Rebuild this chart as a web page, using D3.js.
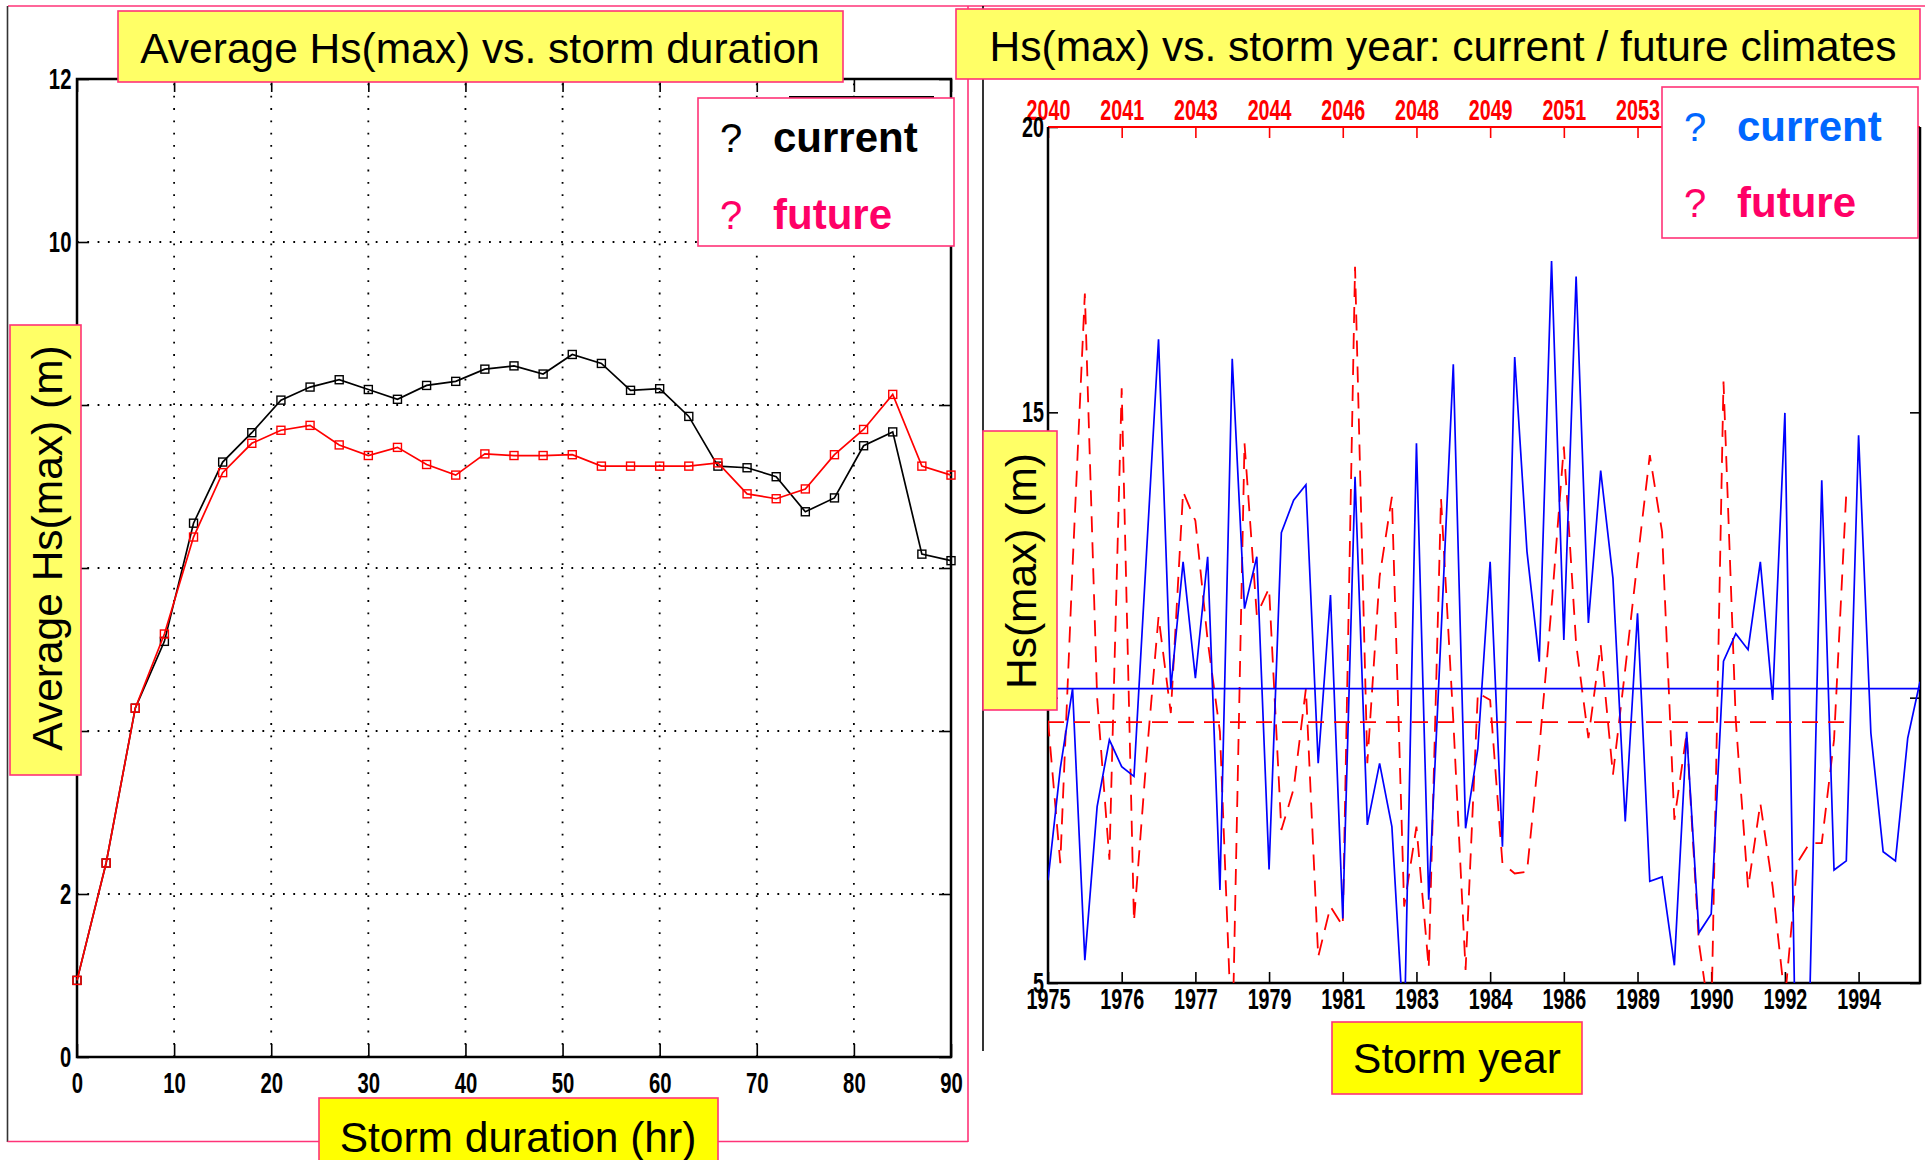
<!DOCTYPE html>
<html lang="en">
  <head>
    <meta charset="utf-8">
    <title>Hs(max) vs. storm duration / storm year</title>
    <script src="https://cdn.jsdelivr.net/npm/d3@7"></script>
    <style>
      body { margin: 0; background: #fff; }
      svg { display: block; }
    </style>
  </head>

  <body>
    <div id="main"></div>

    <script type="text/javascript">
      // ---- left panel: average Hs(max) by storm duration ----
      let durations = [0,3,6,9,12,15,18,21,24,27,30,33,36,39,42,45,48,51,54,57,60,63,66,69,72,75,78,81,84,87,90]
      let avgCurrent = [0.94,2.38,4.28,5.10,6.55,7.30,7.66,8.06,8.22,8.31,8.19,8.07,8.24,8.29,8.44,8.48,
                        8.38,8.62,8.51,8.18,8.20,7.86,7.25,7.23,7.12,6.69,6.86,7.50,7.67,6.17,6.09]
      let avgFuture  = [0.94,2.38,4.28,5.19,6.38,7.17,7.53,7.69,7.75,7.51,7.38,7.48,7.27,7.14,7.40,7.38,
                        7.38,7.39,7.25,7.25,7.25,7.25,7.29,6.91,6.85,6.97,7.39,7.70,8.13,7.25,7.14]
      let durTicks = [0,10,20,30,40,50,60,70,80,90]
      let avgTicks = [0,2,4,6,8,10,12]

      // ---- right panel: Hs(max) of each storm, in storm order ----
      let hsCurrent = [6.80,8.76,10.16,5.40,8.09,9.26,8.79,8.62,12.45,16.28,
                       10.16,12.38,10.34,12.47,6.63,15.94,11.56,12.47,6.99,12.89,
                       13.46,13.73,8.85,11.80,6.13,13.87,7.77,8.85,7.74,4.00,
                       14.46,6.46,11.10,15.84,7.71,9.11,12.38,7.39,15.97,12.56,
                       10.63,17.65,11.01,17.38,11.31,13.98,12.09,7.83,11.48,6.78,
                       6.86,5.31,9.40,5.88,6.21,10.64,11.12,10.84,12.38,9.96,
                       14.99,2.00,4.50,13.81,6.98,7.14,14.60,9.38,7.30,7.14,9.29,10.28]
      let hsFuture  = [9.60,7.10,12.30,17.08,10.00,7.16,15.42,6.08,8.90,11.42,
                       9.73,13.61,13.10,11.00,9.40,3.80,14.46,11.45,11.92,7.68,
                       8.40,10.16,5.46,6.34,6.00,17.55,8.85,12.12,13.52,6.34,
                       7.74,5.26,13.49,9.60,5.23,10.08,9.96,7.10,6.92,6.95,
                       9.10,11.60,14.40,10.95,9.29,10.92,8.65,10.50,12.40,14.25,
                       12.90,7.86,9.38,5.70,4.20,15.54,9.60,6.66,8.15,6.69,
                       4.70,7.10,7.45,7.45,9.26,13.59]
      let meanCurrent = 10.16
      let meanFuture = 9.57
      let stormTicks = [1,7,13,19,25,31,37,43,49,55,61,67]
      let yearLabels = ['1975','1976','1977','1979','1981','1983','1984','1986','1989','1990','1992','1994']
      let futureYearLabels = ['2040','2041','2043','2044','2046','2048','2049','2051','2053']
      let hsTicks = [5,10,15,20]

      let pink = '#ff3377'
      let font = "'Liberation Sans', Arial, Helvetica, sans-serif"

      let svg = d3.select('#main').append('svg')
        .attr('width', 1927)
        .attr('height', 1160)
        .style('background', '#fff')

      // tick label styling shared by every axis (narrow bold digits)
      function styleAxis(g, color, squeeze) {
        g.select('.domain').remove()
        g.attr('font-family', font).attr('font-size', 29).attr('font-weight', 'bold')
        g.selectAll('line').attr('stroke', color).attr('stroke-width', 1.6)
        g.selectAll('text').attr('fill', color).attr('transform', 'scale(' + squeeze + ',1)')
      }

      // ================= LEFT PANEL =================
      let lx = d3.scaleLinear().domain([0,90]).range([77,951])
      let ly = d3.scaleLinear().domain([0,12]).range([1057,79])
      let left = svg.append('g')

      // dotted grid
      left.selectAll('.vgrid')
        .data(durTicks.filter(d => d > 0 && d < 90))
        .enter().append('line')
        .attr('x1', d => lx(d)).attr('x2', d => lx(d))
        .attr('y1', ly(0)).attr('y2', ly(12))
        .attr('stroke', '#000').attr('stroke-width', 1.8)
        .attr('stroke-dasharray', '1.8,10.5')
      left.selectAll('.hgrid')
        .data(avgTicks.filter(d => d > 0 && d < 12))
        .enter().append('line')
        .attr('x1', lx(0)).attr('x2', lx(90))
        .attr('y1', d => ly(d)).attr('y2', d => ly(d))
        .attr('stroke', '#000').attr('stroke-width', 1.8)
        .attr('stroke-dasharray', '1.8,8.5')

      // axes (ticks point inwards)
      left.append('g')
        .attr('transform', 'translate(0,' + ly(0) + ')')
        .call(d3.axisBottom(lx).tickValues(durTicks).tickSizeInner(-13).tickSizeOuter(0).tickPadding(15))
        .call(g => styleAxis(g, '#000', 0.7))
      left.append('g')
        .attr('transform', 'translate(0,' + ly(12) + ')')
        .call(d3.axisTop(lx).tickValues(durTicks).tickSizeInner(-13).tickSizeOuter(0).tickFormat(''))
        .call(g => styleAxis(g, '#000', 0.7))
      left.append('g')
        .attr('transform', 'translate(' + lx(0) + ',0)')
        .call(d3.axisLeft(ly).tickValues(avgTicks).tickSizeInner(-12).tickSizeOuter(0).tickPadding(8))
        .call(g => styleAxis(g, '#000', 0.7))
      left.append('g')
        .attr('transform', 'translate(' + lx(90) + ',0)')
        .call(d3.axisRight(ly).tickValues(avgTicks).tickSizeInner(-12).tickSizeOuter(0).tickFormat(''))
        .call(g => styleAxis(g, '#000', 0.7))
      left.append('rect')
        .attr('x', lx(0)).attr('y', ly(12))
        .attr('width', lx(90) - lx(0)).attr('height', ly(0) - ly(12))
        .attr('fill', 'none').attr('stroke', '#000').attr('stroke-width', 2.5)

      let avgLine = d3.line()
        .x((d, i) => lx(durations[i]))
        .y(d => ly(d))

      let avgSeries = [
        {values: avgCurrent, color: '#000'},
        {values: avgFuture, color: '#ff0000'}
      ]
      avgSeries.forEach(s => {
        left.append('path')
          .attr('d', avgLine(s.values))
          .attr('fill', 'none').attr('stroke', s.color).attr('stroke-width', 1.7)
        left.selectAll(null)
          .data(s.values)
          .enter().append('rect')
          .attr('x', (d, i) => lx(durations[i]) - 4)
          .attr('y', d => ly(d) - 4)
          .attr('width', 8).attr('height', 8)
          .attr('fill', 'none').attr('stroke', s.color).attr('stroke-width', 1.4)
      })

      // ================= RIGHT PANEL =================
      let rx = d3.scaleLinear().domain([1,72]).range([1048,1920])
      let ry = d3.scaleLinear().domain([5,20]).range([983,127])
      let right = svg.append('g')

      right.append('clipPath').attr('id', 'plot-clip')
        .append('rect')
        .attr('x', rx(1)).attr('y', ry(20))
        .attr('width', rx(72) - rx(1)).attr('height', ry(5) - ry(20))

      right.append('g')
        .attr('transform', 'translate(0,' + ry(5) + ')')
        .call(d3.axisBottom(rx).tickValues(stormTicks).tickFormat((d, i) => yearLabels[i])
          .tickSizeInner(-11).tickSizeOuter(0).tickPadding(5))
        .call(g => styleAxis(g, '#000', 0.68))
      right.append('g')
        .attr('transform', 'translate(0,' + ry(20) + ')')
        .call(d3.axisTop(rx).tickValues(stormTicks).tickFormat((d, i) => futureYearLabels[i] || '')
          .tickSizeInner(-11).tickSizeOuter(0).tickPadding(7))
        .call(g => styleAxis(g, '#ff0000', 0.68))
      right.append('g')
        .attr('transform', 'translate(' + rx(1) + ',0)')
        .call(d3.axisLeft(ry).tickValues(hsTicks).tickSizeInner(-10).tickSizeOuter(0).tickPadding(6))
        .call(g => styleAxis(g, '#000', 0.68))
      right.append('g')
        .attr('transform', 'translate(' + rx(72) + ',0)')
        .call(d3.axisRight(ry).tickValues(hsTicks).tickSizeInner(-10).tickSizeOuter(0).tickFormat(''))
        .call(g => styleAxis(g, '#000', 0.68))

      // frame: red on top (future years), black elsewhere
      right.append('line')
        .attr('x1', rx(1)).attr('x2', rx(72))
        .attr('y1', ry(20)).attr('y2', ry(20))
        .attr('stroke', '#ff0000').attr('stroke-width', 2.2)
      right.append('path')
        .attr('d', 'M' + rx(1) + ',' + ry(20) + 'V' + ry(5) + 'H' + rx(72) + 'V' + ry(20))
        .attr('fill', 'none').attr('stroke', '#000').attr('stroke-width', 2.5)

      let stormLine = d3.line()
        .x((d, i) => rx(i + 1))
        .y(d => ry(d))

      let plot = right.append('g').attr('clip-path', 'url(#plot-clip)')
      plot.append('path')
        .attr('d', stormLine(hsFuture))
        .attr('fill', 'none').attr('stroke', '#ff0000').attr('stroke-width', 1.8)
        .attr('stroke-dasharray', '16,10')
      plot.append('path')
        .attr('d', stormLine(hsCurrent))
        .attr('fill', 'none').attr('stroke', '#0000ff').attr('stroke-width', 1.7)
      plot.append('line')
        .attr('x1', rx(1)).attr('x2', rx(hsFuture.length))
        .attr('y1', ry(meanFuture)).attr('y2', ry(meanFuture))
        .attr('stroke', '#ff0000').attr('stroke-width', 1.8).attr('stroke-dasharray', '16,10')
      plot.append('line')
        .attr('x1', rx(1)).attr('x2', rx(hsCurrent.length))
        .attr('y1', ry(meanCurrent)).attr('y2', ry(meanCurrent))
        .attr('stroke', '#0000ff').attr('stroke-width', 1.7)

      // ================= FRAMES, LABELS, LEGENDS =================
      let frame = svg.append('g').attr('fill', 'none').attr('stroke-width', 1.6)
      frame.append('line').attr('x1', 8).attr('x2', 1925).attr('y1', 6).attr('y2', 6).attr('stroke', pink)
      frame.append('line').attr('x1', 7.5).attr('x2', 7.5).attr('y1', 6).attr('y2', 1142).attr('stroke', '#333')
      frame.append('line').attr('x1', 7.5).attr('x2', 968).attr('y1', 1141.5).attr('y2', 1141.5).attr('stroke', pink)
      frame.append('line').attr('x1', 968).attr('x2', 968).attr('y1', 6).attr('y2', 1142).attr('stroke', pink)
      frame.append('line').attr('x1', 983).attr('x2', 983).attr('y1', 6).attr('y2', 1051).attr('stroke', '#000')

      function textBox(box, fill, label, tx, ty, rotate) {
        svg.append('rect')
          .attr('x', box[0]).attr('y', box[1])
          .attr('width', box[2] - box[0]).attr('height', box[3] - box[1])
          .attr('fill', fill).attr('stroke', pink).attr('stroke-width', 1.6)
        svg.append('text')
          .attr('transform', 'translate(' + tx + ',' + ty + ')' + (rotate ? ' rotate(-90)' : ''))
          .attr('text-anchor', 'middle')
          .attr('font-family', font)
          .attr('font-size', 42.5)
          .attr('fill', '#000')
          .text(label)
      }

      textBox([118, 11, 843, 82], '#ffff66', 'Average Hs(max) vs. storm duration', 480, 63, false)
      textBox([10, 325, 81, 775], '#ffff66', 'Average Hs(max) (m)', 62, 548, true)
      textBox([319, 1098, 718, 1170], '#ffff00', 'Storm duration (hr)', 518, 1152, false)
      textBox([956, 9, 1920, 79], '#ffff66', 'Hs(max) vs. storm year: current / future climates', 1443, 61, false)
      textBox([983, 431, 1057, 710], '#ffff66', 'Hs(max) (m)', 1036, 571, true)
      textBox([1332, 1022, 1582, 1094], '#ffff00', 'Storm year', 1457, 1073, false)

      // stray edge of the original legend frame
      svg.append('line')
        .attr('x1', 789).attr('x2', 934).attr('y1', 97).attr('y2', 97)
        .attr('stroke', '#000').attr('stroke-width', 2)

      function legend(box, items) {
        svg.append('rect')
          .attr('x', box[0]).attr('y', box[1])
          .attr('width', box[2] - box[0]).attr('height', box[3] - box[1])
          .attr('fill', '#fff').attr('stroke', pink).attr('stroke-width', 1.6)
        items.forEach(it => {
          svg.append('text')
            .attr('x', box[0] + 22).attr('y', it.y)
            .attr('font-family', font).attr('font-size', 40)
            .attr('fill', it.color)
            .text('?')
          svg.append('text')
            .attr('x', box[0] + 75).attr('y', it.y)
            .attr('font-family', font).attr('font-size', 42).attr('font-weight', 'bold')
            .attr('fill', it.color)
            .text(it.label)
        })
      }

      legend([698, 98, 954, 246], [
        {label: 'current', color: '#000', y: 152},
        {label: 'future', color: '#ff0066', y: 229}
      ])
      legend([1662, 87, 1918, 238], [
        {label: 'current', color: '#0066ff', y: 141},
        {label: 'future', color: '#ff0066', y: 217}
      ])
    </script>
  </body>
</html>
